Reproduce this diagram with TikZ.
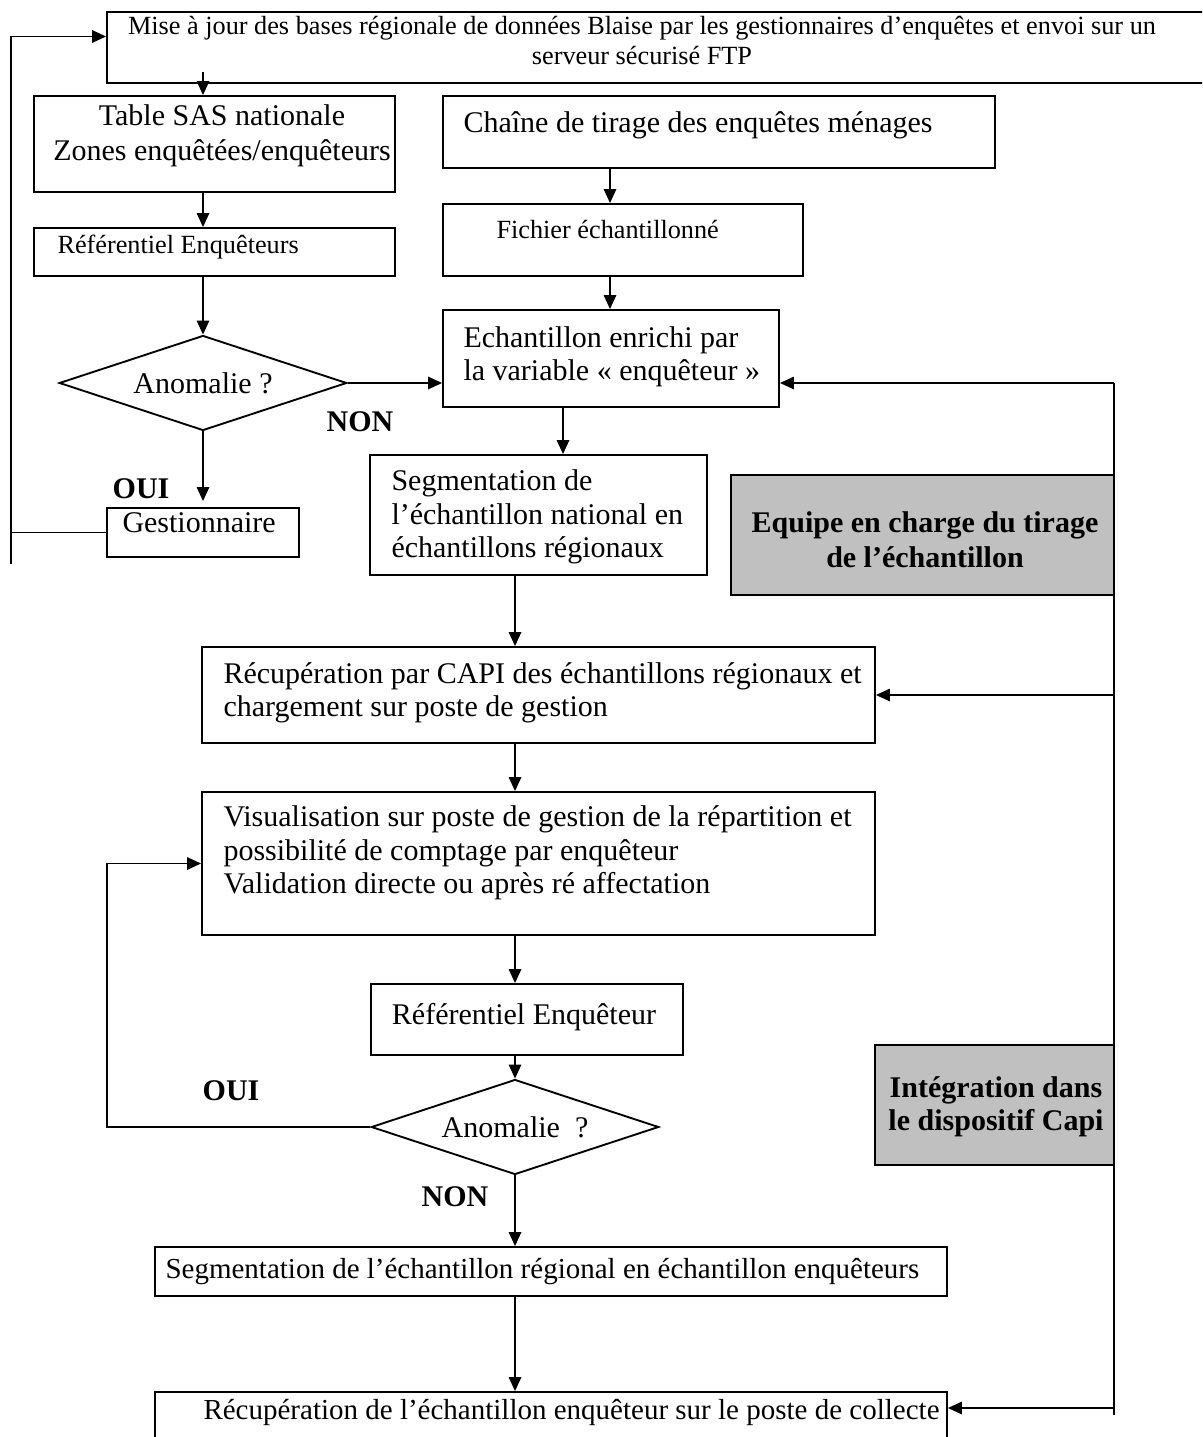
\documentclass[tikz,border=0pt]{standalone}
\usepackage{fontspec}
\setmainfont{Liberation Serif}
\usetikzlibrary{arrows.meta,shapes.geometric,fit}
\definecolor{capigrey}{HTML}{C0C0C0}

\begin{document}
\begin{tikzpicture}[x=0.4pt,y=-0.4pt,
    box/.style={draw,line width=0.75pt,inner sep=0pt},
    greybox/.style={box,fill=capigrey},
    choice/.style={draw,diamond,aspect=3,line width=0.75pt,inner sep=0pt,
      minimum width=115pt,minimum height=38pt,font=\fontsize{12}{14}\selectfont},
    txt/.style={inner sep=0pt,anchor=west,align=left,font=\fontsize{12}{13.4}\selectfont},
    smalltxt/.style={txt,font=\fontsize{10.5}{12}\selectfont},
    answer/.style={inner sep=0pt,align=center,font=\bfseries\fontsize{12}{14}\selectfont},
    flow/.style={-{Triangle[length=5.6pt,width=5pt]},line width=0.6pt},
  ]
    \path[use as bounding box] (0,0) rectangle (1202,1437);
    \clip (0,0) rectangle (1202,1437);

    % boxes
    \node[box,fit={(107,12) (1240,83)}] (maj) {};
    \node[box,fit={(34,96) (395,192)}] (tablesas) {};
    \node[box,fit={(34,228) (395,276)}] (refenq) {};
    \node[box,fit={(443,96) (995,168)}] (chaine) {};
    \node[box,fit={(443,204) (803,276)}] (fichier) {};
    \node[box,fit={(443,310) (779,407)}] (enrichi) {};
    \node[box,fit={(107,508) (299,557)}] (gest) {};
    \node[box,fit={(370,455) (707,575)}] (segnat) {};
    \node[greybox,fit={(731,475) (1114,595)}] (equipe) {};
    \node[box,fit={(202,647) (875,743)}] (recup) {};
    \node[box,fit={(202,792) (875,935)}] (visu) {};
    \node[box,fit={(371,984) (683,1055)}] (refenqb) {};
    \node[greybox,fit={(875,1045) (1114,1165)}] (integ) {};
    \node[box,fit={(155,1247) (947,1296)}] (segreg) {};
    \node[box,fit={(155,1392) (947,1470)}] (recupfin) {};
    \node[choice] (anomA) at (203,383) {Anomalie ?};
    \node[choice] (anomB) at (515,1127) {Anomalie~~?};

    % texts
    \node[smalltxt,anchor=center,align=center,font=\fontsize{10.5}{12}\selectfont] (majtxt) at (642,41)
      {Mise à jour des bases régionale de données Blaise par les gestionnaires d’enquêtes et envoi sur un\\serveur sécurisé FTP};
    \node[txt,anchor=center,align=center,font=\fontsize{12}{14}\selectfont] (tablesastxt) at (222,136)
      {Table SAS nationale\\Zones enquêtées/enquêteurs};
    \node[smalltxt] (refenqtxt) at (57,247) {Référentiel Enquêteurs};
    \node[txt] (chainetxt) at (463,125) {Chaîne de tirage des enquêtes ménages};
    \node[smalltxt] (fichiertxt) at (496,230) {Fichier échantillonné};
    \node[txt] (enrichitxt) at (463,357) {Echantillon enrichi par\\la variable « enquêteur »};
    \node[txt] (gesttxt) at (122,523) {Gestionnaire};
    \node[txt] (segnattxt) at (391,517) {Segmentation de\\l’échantillon national en\\échantillons régionaux};
    \node[answer] (equipetxt) at (925,540) {Equipe en charge du tirage\\de l’échantillon};
    \node[txt] (recuptxt) at (223,693)
      {Récupération par CAPI des échantillons régionaux et\\chargement sur poste de gestion};
    \node[txt] (visutxt) at (223,853)
      {Visualisation sur poste de gestion de la répartition et\\possibilité de comptage par enquêteur\\Validation directe ou après ré affectation};
    \node[txt,anchor=center] (refenqbtxt) at (524,1017) {Référentiel Enquêteur};
    \node[answer,font=\bfseries\fontsize{12}{13.4}\selectfont] (integtxt) at (996,1107) {Intégration dans\\le dispositif Capi};
    \node[txt,font=\fontsize{11.6}{13}\selectfont] (segregtxt) at (165,1272)
      {Segmentation de l’échantillon régional en échantillon enquêteurs};
    \node[txt,font=\fontsize{11.6}{13}\selectfont] (recupfintxt) at (203,1412)
      {Récupération de l’échantillon enquêteur sur le poste de collecte};
    \node[answer] (nonA) at (360,422) {NON};
    \node[answer] (ouiA) at (141,489) {OUI};
    \node[answer] (ouiB) at (231,1091) {OUI};
    \node[answer] (nonB) at (455,1197) {NON};

    % connectors
    \coordinate (colA) at (203,0);
    \coordinate (colB) at (610,0);
    \coordinate (colC) at (563,0);
    \coordinate (colD) at (515,0);
    \coordinate (majout) at (203,72);
    \coordinate (loopA) at (11,564);
    \coordinate (loopB) at (107,1127);
    \coordinate (rtop) at (1114,383);
    \coordinate (rbot) at (1114,1415);
    \coordinate (rfin) at (1114,1408);

    \draw[flow] (loopA) |- ([yshift=4.4pt]maj.west);
    \draw[line width=0.6pt] (gest.west) -- (gest.west -| loopA);
    \draw[flow] (majout) -- (majout |- tablesas.north);
    \draw[flow] (tablesas.south -| colA) -- (refenq.north -| colA);
    \draw[flow] (refenq.south -| colA) -- (anomA.north);
    \draw[flow,shorten >=2.4pt] (anomA.south) -- (gest.north -| colA);
    \draw[flow] (anomA.east) -- (anomA.east -| enrichi.west);
    \draw[flow] (chaine.south -| colB) -- (fichier.north -| colB);
    \draw[flow] (fichier.south -| colB) -- (enrichi.north -| colB);
    \draw[flow] (enrichi.south -| colC) -- (segnat.north -| colC);
    \draw[flow] (segnat.south -| colD) -- (recup.north -| colD);
    \draw[flow] (recup.south -| colD) -- (visu.north -| colD);
    \draw[flow] (visu.south -| colD) -- (refenqb.north -| colD);
    \draw[flow] (refenqb.south -| colD) -- (anomB.north);
    \draw[flow] (anomB.south) -- (segreg.north -| colD);
    \draw[flow] (segreg.south -| colD) -- (recupfin.north -| colD);
    \draw[flow] (anomB.west) -- (loopB) |- (visu.west);
    \draw[line width=0.6pt] (rtop) -- (rbot);
    \draw[flow] (rtop) -- (rtop -| enrichi.east);
    \draw[flow] (recup.east -| rtop) -- (recup.east);
    \draw[flow] (rfin) -- (rfin -| recupfin.east);
  \end{tikzpicture}
\end{document}
